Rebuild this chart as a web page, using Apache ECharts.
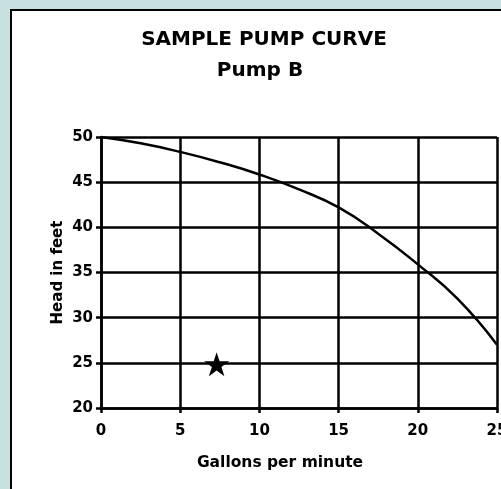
<!DOCTYPE html>
<html>
<head>
<meta charset="utf-8">
<script src="https://cdn.jsdelivr.net/npm/echarts@6/dist/echarts.min.js"></script>
<style>
html,body{margin:0;padding:0;background:#c8e0e0;}
#chart{width:501px;height:489px;}
</style>
</head>
<body>
<div id="chart"></div>
<script>
// Data
const flowGpm = [0, 2.5, 5, 7.5, 10, 12.5, 15, 17.5, 20, 22.5, 25];
const headFt  = [50, 49.3, 48.35, 47.2, 45.85, 44.2, 42.2, 39.3, 35.9, 32.1, 27.0];
const operatingPoint = [7.3, 24.85];
const xTicks = [0, 5, 10, 15, 20, 25];
const yTicks = [20, 25, 30, 35, 40, 45, 50];

const chart = echarts.init(document.getElementById('chart'), null, {renderer: 'canvas'});
const font = 'DejaVu Sans';
const starPath = 'path://M50,0 L61.2,34.5 L97.6,34.5 L68.2,55.9 L79.4,90.5 L50,69.1 L20.6,90.5 L31.8,55.9 L2.4,34.5 L38.8,34.5 Z';

chart.setOption({
  backgroundColor: '#c8e0e0',
  animation: false,
  graphic: [{
    type: 'rect',
    z: -10,
    silent: true,
    shape: {x: 11, y: 10, width: 700, height: 700},
    style: {fill: '#ffffff', stroke: '#000000', lineWidth: 2}
  }],
  title: [{
    text: 'SAMPLE PUMP CURVE',
    left: 259, top: 25, textAlign: 'center',
    textStyle: {fontFamily: font, fontWeight: 'bold', fontSize: 20, color: '#000'}
  }, {
    text: 'Pump B',
    left: 255, top: 56, textAlign: 'center',
    textStyle: {fontFamily: font, fontWeight: 'bold', fontSize: 20, color: '#000'}
  }],
  grid: {left: 101, right: 4, top: 137, bottom: 81, containLabel: false, outerBoundsMode: 'none'},
  xAxis: {
    type: 'value', min: 0, max: 25, interval: 5,
    name: 'Gallons per minute', nameLocation: 'middle', nameGap: 47,
    nameTextStyle: {fontFamily: font, fontWeight: 'bold', fontSize: 15.5, color: '#000', padding: [0, 38, 0, 0]},
    axisLine: {show: true, lineStyle: {color: '#000', width: 2.5}},
    axisTick: {show: true, length: 5, lineStyle: {color: '#000', width: 2.5}},
    axisLabel: {fontFamily: font, fontWeight: 'bold', fontSize: 15, color: '#000', margin: 16,
      formatter: v => xTicks.includes(v) ? String(v) : ''},
    splitLine: {show: true, lineStyle: {color: '#000', width: 2.5}}
  },
  yAxis: {
    type: 'value', min: 20, max: 50, interval: 5,
    name: 'Head in feet', nameLocation: 'middle', nameGap: 35, nameRotate: 90,
    nameMoveOverlap: false,
    nameTextStyle: {fontFamily: font, fontWeight: 'bold', fontSize: 15, color: '#000'},
    axisLine: {show: true, lineStyle: {color: '#000', width: 2.5}},
    axisTick: {show: true, length: 5, lineStyle: {color: '#000', width: 2.5}},
    axisLabel: {fontFamily: font, fontWeight: 'bold', fontSize: 15, color: '#000', margin: 8,
      formatter: v => yTicks.includes(v) ? String(v) : ''},
    splitLine: {show: true, lineStyle: {color: '#000', width: 2.5}}
  },
  series: [{
    type: 'line',
    data: flowGpm.map((x, i) => [x, headFt[i]]),
    smooth: 0.5,
    showSymbol: false,
    lineStyle: {color: '#000', width: 2.5},
    z: 5
  }, {
    type: 'scatter',
    data: [operatingPoint],
    symbol: starPath,
    symbolSize: [25, 24],
    itemStyle: {color: '#000', opacity: 1},
    z: 6
  }]
});
</script>
</body>
</html>
